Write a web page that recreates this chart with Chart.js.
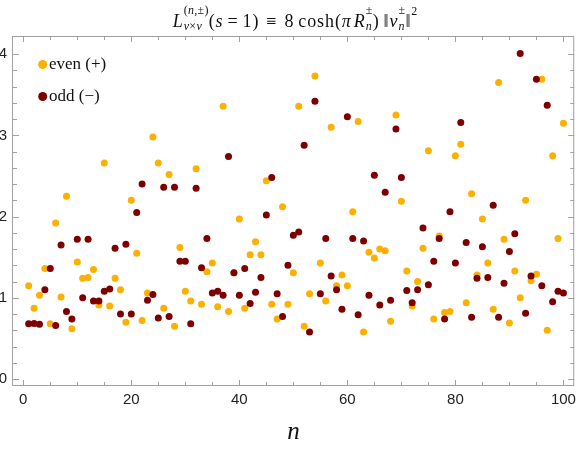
<!DOCTYPE html>
<html>
<head>
<meta charset="utf-8">
<script src="https://cdn.jsdelivr.net/npm/chart.js@4.4.1/dist/chart.umd.min.js"></script>
<style>
  body { margin: 0; background: #fff; }
  #wrap { position: relative; width: 581px; height: 451px; }
  #title {
    position: absolute; top: 11px; left: 0; width: 591px;
    text-align: center; white-space: nowrap; color: #111; letter-spacing: 0.9px;
    font: 18px "Liberation Serif", "DejaVu Serif", serif; line-height: 20px;
  }
  #title i { font-style: italic; }
  .op { margin: 0 4px; }
  .eq { margin: 0 7px; }
  .gap { margin-left: 4px; }
  .pi { margin-right: 2px; }
  .ss { position: relative; display: inline-block; font-size: 12px; line-height: 12px; text-align: left; letter-spacing: 0.3px; }
  .ss .sb { position: relative; top: 3px; }
  .ss .sp { position: absolute; left: 0; top: -13px; white-space: nowrap; }
  .sq { font-size: 12px; position: relative; top: -12px; }
</style>
</head>
<body>
<div id="wrap">
  <canvas id="chart" width="581" height="451"></canvas>
  <div id="title"><i>L</i><span class="ss"><span class="sb"><i>ν</i>×<i>ν</i></span><span class="sp">(<i>n</i>,±)</span></span>(<i>s</i><span class="op">=</span>1)<span class="eq">≡</span>8<span class="gap">cosh(<i class="pi">π</i><i>R</i></span><span class="ss"><span class="sb"><i>n</i></span><span class="sp">±</span></span>)<span class="gap">‖<i>ν</i></span><span class="ss"><span class="sb"><i>n</i></span><span class="sp">±</span></span>‖<span class="sq">2</span></div>
</div>
<script>
// n values (categories)
const nValues = [1, 2, 3, 4, 5, 6, 7, 8, 9, 10, 11, 12, 13, 14, 15, 16, 17, 18, 19, 20,
  21, 22, 23, 24, 25, 26, 27, 28, 29, 30, 31, 32, 33, 34, 35, 36, 37, 38, 39, 40,
  41, 42, 43, 44, 45, 46, 47, 48, 49, 50, 51, 52, 53, 54, 55, 56, 57, 58, 59, 60,
  61, 62, 63, 64, 65, 66, 67, 68, 69, 70, 71, 72, 73, 74, 75, 76, 77, 78, 79, 80,
  81, 82, 83, 84, 85, 86, 87, 88, 89, 90, 91, 92, 93, 94, 95, 96, 97, 98, 99, 100];

// even (+)
const evenValues = [1.15, 0.87, 1.03, 1.36, 0.68, 1.92, 1.01, 2.25, 0.62, 1.44,
  1.24, 1.25, 1.35, 0.91, 2.66, 0.90, 1.24, 1.10, 0.70, 2.20,
  1.55, 0.72, 1.06, 2.98, 2.66, 0.87, 2.52, 0.65, 1.62, 1.08,
  0.96, 2.59, 0.92, 1.32, 1.43, 0.89, 3.36, 0.83, 1.31, 1.97,
  0.87, 1.53, 1.69, 1.53, 2.44, 0.92, 0.74, 2.12, 0.92, 1.31,
  3.36, 0.65, 1.05, 3.73, 1.43, 0.96, 3.10, 1.15, 1.28, 1.15,
  2.06, 3.17, 0.58, 1.56, 1.49, 1.60, 1.58, 0.71, 3.25, 2.19,
  1.33, 0.90, 1.20, 1.61, 2.81, 0.74, 1.76, 0.82, 0.83, 2.75,
  2.89, 0.94, 2.28, 1.28, 1.97, 1.43, 0.86, 3.65, 1.72, 0.69,
  1.33, 1.00, 2.20, 1.21, 1.29, 3.69, 0.60, 2.75, 1.73, 3.15];

// odd (-)
const oddValues = [0.68, 0.685, 0.675, 1.10, 1.36, 0.66, 1.65, 0.83, 0.74, 1.72,
  1.00, 1.72, 0.96, 0.96, 1.08, 1.11, 1.61, 0.80, 1.66, 0.80,
  2.05, 2.40, 0.97, 1.04, 0.75, 2.36, 0.77, 2.36, 1.45, 1.45,
  0.68, 2.35, 1.37, 1.73, 1.06, 1.08, 1.03, 2.74, 1.31, 1.03,
  1.36, 0.93, 1.07, 1.25, 2.02, 2.48, 1.05, 0.77, 1.40, 1.77,
  1.81, 2.88, 0.58, 3.42, 1.05, 1.73, 1.27, 1.10, 0.86, 3.23,
  1.73, 0.79, 1.70, 1.03, 2.51, 0.91, 2.30, 0.97, 3.08, 2.48,
  1.09, 0.94, 1.10, 1.86, 1.16, 1.45, 1.73, 0.74, 2.06, 1.43,
  3.16, 1.68, 0.76, 1.24, 1.63, 1.25, 2.14, 0.76, 1.18, 1.57,
  1.79, 4.01, 0.81, 1.27, 3.69, 1.15, 3.37, 0.95, 1.08, 1.06];

const xTickLabels = [0, 20, 40, 60, 80, 100];
const yTickLabels = [0, 1, 2, 3, 4];

const evenColor = "#fcb000";
const oddColor = "#7d0000";
const frameColor = "#a0a0a0";

// stacked scripts: make each box as wide as its wider line
document.querySelectorAll(".ss").forEach(ss => {
    const w = Math.max(ss.querySelector(".sb").offsetWidth, ss.querySelector(".sp").offsetWidth);
    ss.style.width = w + "px";
});

// Frame with inward ticks on all four sides
const frameTicks = {
    id: "frameTicks",
    beforeDatasetsDraw(chart) {
        const { ctx, chartArea: a, scales: { x, y } } = chart;
        ctx.save();
        ctx.strokeStyle = frameColor;
        ctx.lineWidth = 1;
        ctx.strokeRect(a.left - 0.5, a.top + 0.5, a.right - a.left, a.bottom - a.top - 1);

        ctx.beginPath();
        for (let v = 0; v <= 100; v += 5) {
            const px = Math.round(x.getPixelForValue(v)) + 0.5;
            const len = v % 20 === 0 ? 6 : 4;
            ctx.moveTo(px, a.bottom);
            ctx.lineTo(px, a.bottom - len);
            ctx.moveTo(px, a.top);
            ctx.lineTo(px, a.top + len);
        }
        for (let i = 0; i <= 20; i++) {
            const v = i / 5;
            const py = Math.round(y.getPixelForValue(v)) + 0.5;
            const len = i % 5 === 0 ? 6 : 4;
            ctx.moveTo(a.left, py);
            ctx.lineTo(a.left + len, py);
            ctx.moveTo(a.right, py);
            ctx.lineTo(a.right - len, py);
        }
        ctx.stroke();
        ctx.restore();
    }
};

// Legend inside the plot, top left
const insetLegend = {
    id: "insetLegend",
    afterDraw(chart) {
        const { ctx } = chart;
        const rows = [64.5, 96.5];
        ctx.save();
        ctx.font = '17px "Liberation Serif", "DejaVu Serif", serif';
        ctx.textBaseline = "middle";
        chart.data.datasets.forEach((ds, i) => {
            ctx.beginPath();
            ctx.arc(42.7, rows[i], 4.5, 0, Math.PI * 2);
            ctx.fillStyle = ds.backgroundColor;
            ctx.fill();
            ctx.fillStyle = "#111";
            ctx.fillText(ds.label, 49, rows[i] + 0.5);
        });
        ctx.restore();
    }
};

const ctx = document.getElementById("chart").getContext("2d");

new Chart(ctx, {
    type: "scatter",
    data: {
        datasets: [
            {
                label: "even (+)",
                data: nValues.map((n, i) => ({ x: n, y: evenValues[i] })),
                backgroundColor: evenColor,
                borderWidth: 0,
                pointRadius: 3.5,
                pointHoverRadius: 3.5,
                order: 1
            },
            {
                label: "odd (\u2212)",
                data: nValues.map((n, i) => ({ x: n, y: oddValues[i] })),
                backgroundColor: oddColor,
                borderWidth: 0,
                pointRadius: 3.5,
                pointHoverRadius: 3.5,
                order: 0
            }
        ]
    },
    options: {
        responsive: false,
        animation: false,
        layout: { padding: { top: 36, right: 3, left: 0, bottom: 0 } },
        plugins: {
            legend: { display: false },
            tooltip: { enabled: false }
        },
        scales: {
            x: {
                type: "linear",
                min: -1.9,
                max: 102,
                afterBuildTicks: scale => { scale.ticks = xTickLabels.map(v => ({ value: v })); },
                afterFit: scale => { scale.height = 65; },
                grid: { display: false, drawTicks: false },
                border: { display: false },
                ticks: {
                    padding: 5,
                    color: "#222",
                    maxRotation: 0,
                    font: { family: "Liberation Sans", size: 15 }
                },
                title: {
                    display: true,
                    text: "n",
                    color: "#111",
                    padding: { top: 0, bottom: 4 },
                    font: { family: "Liberation Serif", style: "italic", size: 25 }
                }
            },
            y: {
                type: "linear",
                min: -0.086,
                max: 4.224,
                afterBuildTicks: scale => { scale.ticks = yTickLabels.map(v => ({ value: v })); },
                afterFit: scale => { scale.width = 13; },
                grid: { display: false, drawTicks: false },
                border: { display: false },
                ticks: {
                    padding: 6,
                    color: "#222",
                    font: { family: "Liberation Sans", size: 15 }
                }
            }
        }
    },
    plugins: [frameTicks, insetLegend]
});
</script>
</body>
</html>
